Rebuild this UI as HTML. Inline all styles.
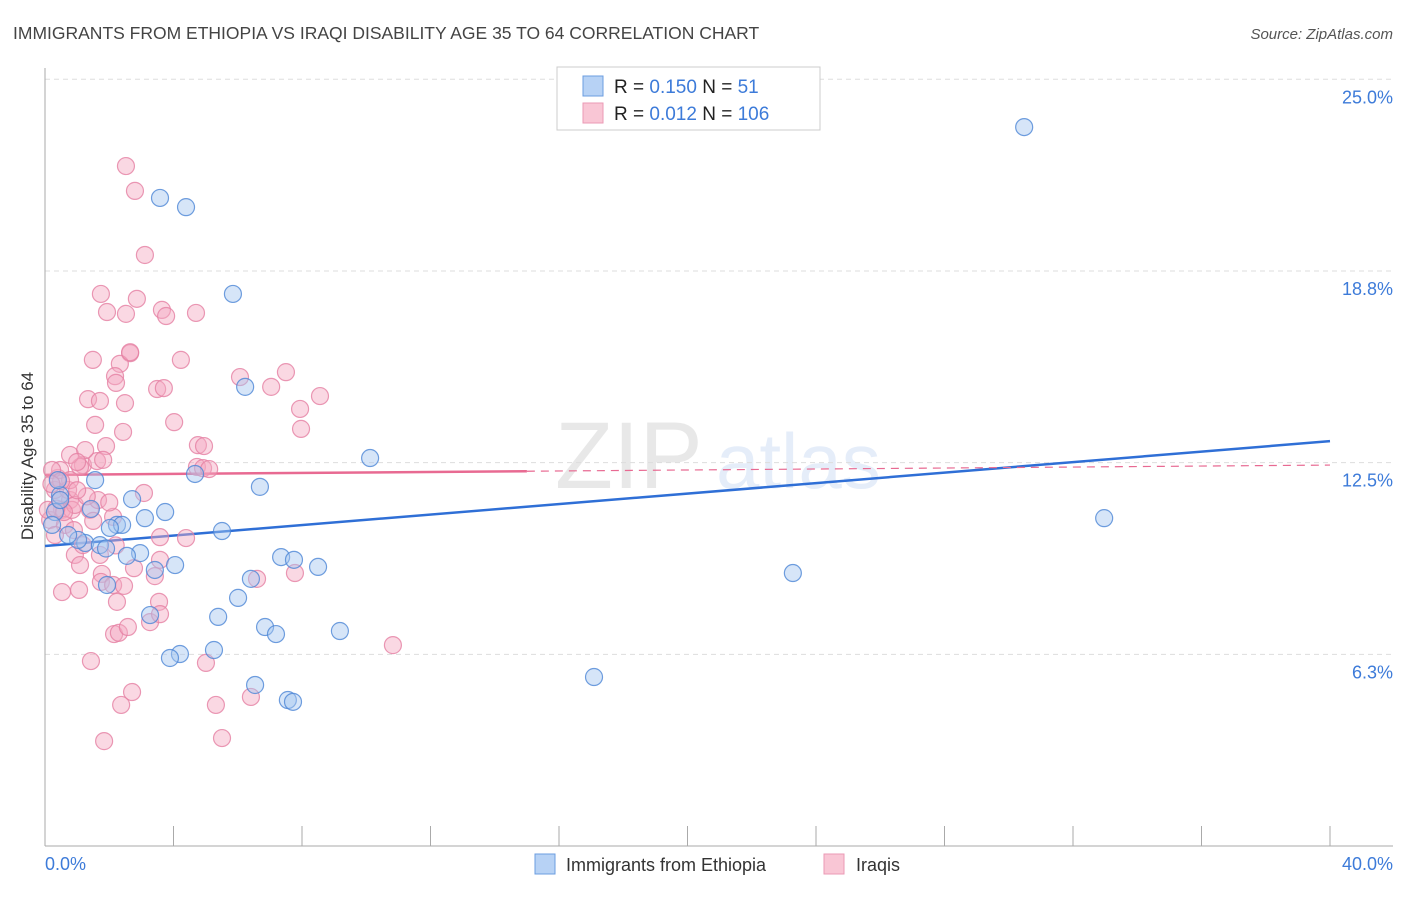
<!DOCTYPE html>
<html><head><meta charset="utf-8"><style>
body{margin:0;background:#fff;width:1406px;height:892px;overflow:hidden;font-family:"Liberation Sans",sans-serif}
svg text{font-family:"Liberation Sans",sans-serif}
</style></head><body>
<svg id="chart" width="1406" height="892" viewBox="0 0 1406 892" xmlns="http://www.w3.org/2000/svg">
<text x="13" y="39" font-size="17.5" fill="#444">IMMIGRANTS FROM ETHIOPIA VS IRAQI DISABILITY AGE 35 TO 64 CORRELATION CHART</text>
<text x="1393" y="39" font-size="15" fill="#555" text-anchor="end" font-style="italic">Source: ZipAtlas.com</text>
<g opacity="0.13">
<text x="555" y="488" font-size="95" fill="#555" font-family="Liberation Serif,serif">ZIP</text>
<text x="716" y="488" font-size="78" fill="#3d7bd9">atlas</text>
</g>
<g id="grid"></g>
<g id="axes"></g>
<g id="lines"></g>
<g id="pts"></g>
<text transform="translate(33,456) rotate(-90)" font-size="17" fill="#333" text-anchor="middle">Disability Age 35 to 64</text>
<g>
<rect x="557" y="67" width="263" height="63" fill="#fff" stroke="#ccc"/>
<rect x="583" y="76" width="20" height="20" fill="#b7d2f5" stroke="#6b9de0"/>
<rect x="583" y="103" width="20" height="20" fill="#f9c6d5" stroke="#eb9ab5"/>
<text x="614" y="93" font-size="19" fill="#222">R = <tspan fill="#3d7bd9">0.150</tspan>   N = <tspan fill="#3d7bd9">   51</tspan></text>
<text x="614" y="120" font-size="19" fill="#222">R = <tspan fill="#3d7bd9">0.012</tspan>   N = <tspan fill="#3d7bd9">106</tspan></text>
</g>
<g>
<rect x="535" y="854" width="20" height="20" fill="#b7d2f5" stroke="#6b9de0"/>
<text x="566" y="871" font-size="18" fill="#333">Immigrants from Ethiopia</text>
<rect x="824" y="854" width="20" height="20" fill="#f9c6d5" stroke="#eb9ab5"/>
<text x="856" y="871" font-size="18" fill="#333">Iraqis</text>
</g>
</svg>
<script>
const blueX=[3.58,4.39,5.85,30.48,6.23,10.12,4.67,6.69,2.71,1.56,1.43,3.74,3.11,2.24,2.40,2.02,5.51,0.47,0.31,1.25,1.71,1.03,2.96,2.55,7.35,7.75,8.50,3.42,4.05,6.41,1.93,6.01,3.27,5.39,6.85,7.19,9.18,4.20,3.89,5.26,6.54,7.56,7.72,17.09,23.28,32.97,0.40,0.47,0.22,0.72,1.9];
const blueY=[21.13,20.83,18.0,23.44,14.97,12.65,12.13,11.71,11.31,11.93,10.99,10.89,10.69,10.47,10.47,10.37,10.27,11.44,10.89,9.88,9.81,9.98,9.55,9.46,9.42,9.33,9.10,9.00,9.16,8.71,8.51,8.09,7.53,7.47,7.14,6.91,7.01,6.26,6.13,6.39,5.25,4.76,4.70,5.51,8.90,10.69,11.93,11.28,10.47,10.14,9.7];
const pinkX=[2.52,2.80,3.11,1.74,2.86,1.93,2.52,3.64,3.77,4.70,1.49,2.65,4.23,2.33,2.18,2.21,3.49,3.70,1.34,1.71,2.49,6.07,7.50,7.04,8.56,7.94,7.97,4.02,2.43,1.56,1.90,4.76,1.18,1.62,4.73,4.92,0.40,1.09,0.78,1.25,1.00,1.81,4.95,5.11,3.08,2.12,3.58,4.39,3.58,0.93,1.18,1.09,1.71,1.77,0.53,1.06,1.74,2.12,2.77,3.42,2.46,2.24,3.55,3.27,2.15,2.30,2.58,3.58,7.78,6.60,10.83,1.43,5.01,2.71,2.37,5.32,6.41,1.84,5.51,0.47,0.31,0.53,0.16,0.09,0.78,0.84,0.47,0.22,0.62,0.93,0.31,0.72,1.40,1.65,0.59,0.78,2.65,1.3,0.5,1.0,2.0,0.2,1.5,2.2,0.9,0.35];
const pinkY=[22.17,21.36,19.27,18.0,17.84,17.41,17.35,17.48,17.28,17.38,15.85,16.07,15.85,15.72,15.32,15.10,14.90,14.93,14.57,14.51,14.44,15.29,15.45,14.97,14.67,14.25,13.60,13.82,13.50,13.73,13.04,13.07,12.42,12.55,12.36,12.32,12.0,12.36,12.75,12.91,12.52,12.59,13.04,12.29,11.51,10.73,10.07,10.04,9.33,9.49,9.81,9.16,9.49,8.87,8.28,8.35,8.61,8.51,9.06,8.80,8.48,7.96,7.96,7.30,6.91,6.95,7.14,7.56,8.90,8.71,6.55,6.03,5.97,5.02,4.60,4.60,4.86,3.42,3.52,11.28,11.61,10.96,10.63,10.96,11.28,10.96,12.26,12.26,10.47,11.12,10.14,11.61,10.96,11.28,10.89,11.93,16.1,11.4,11.9,11.6,11.2,11.8,10.6,9.8,10.3,11.0];
const blueTrend=[9.78,13.2];
const pinkTrend=[12.1,12.42];
const pinkSolidEnd=15;
const yTicks=[6.25,12.5,18.75,25];
const yTickLabels=["6.3%","12.5%","18.8%","25.0%"];
const xTicks=[0,4,8,12,16,20,24,28,32,36,40];
const xEndLabels=["0.0%","40.0%"];
const NS="http://www.w3.org/2000/svg";
const X=v=>45+v*32.125, Y=v=>846-v*30.67;
function mk(t,a,p){const e=document.createElementNS(NS,t);for(const k in a)e.setAttribute(k,a[k]);p.appendChild(e);return e;}
const grid=document.getElementById('grid'),axes=document.getElementById('axes'),lines=document.getElementById('lines'),pts=document.getElementById('pts');
yTicks.forEach((v,i)=>{
 const l=mk('line',{x1:45,x2:1393,y1:Y(v),y2:Y(v),stroke:'#ddd','stroke-dasharray':'5,4'},grid);
 
 
 const t=mk('text',{x:1393,y:Y(v)+24,'font-size':18,fill:'#3d7bd9','text-anchor':'end'},axes);
 t.textContent=yTickLabels[i];
 
 
});
const ya=mk('line',{x1:45,x2:45,y1:68,y2:846,stroke:'#aaa'},axes);


const xa=mk('line',{x1:45,x2:1393,y1:846,y2:846,stroke:'#aaa'},axes);


xTicks.forEach(v=>{
 const t=mk('line',{x1:X(v),x2:X(v),y1:826,y2:846,stroke:'#aaa'},axes);
 
 
});
const xl0=mk('text',{x:45,y:870,'font-size':18,fill:'#3d7bd9'},axes);xl0.textContent=xEndLabels[0];


const xl1=mk('text',{x:1393,y:870,'font-size':18,fill:'#3d7bd9','text-anchor':'end'},axes);xl1.textContent=xEndLabels[1];


function dots(xs,ys,fill,stroke,name){xs.forEach((x,i)=>{
 const c=mk('circle',{cx:X(x),cy:Y(ys[i]),r:8.5,fill:fill,'fill-opacity':0.45,stroke:stroke,'stroke-width':1.2,'stroke-opacity':0.8},pts);
 
 
});}
dots(pinkX,pinkY,'#f4a9c0','#e57fa2','point-iraqis');
dots(blueX,blueY,'#a5c5f0','#4c86d6','point-ethiopia');
const pAt=v=>pinkTrend[0]+(pinkTrend[1]-pinkTrend[0])*v/40;
const b=mk('line',{x1:X(0),y1:Y(blueTrend[0]),x2:X(40),y2:Y(blueTrend[1]),stroke:'#2f6fd6','stroke-width':2.5},lines);


const p1=mk('line',{x1:X(0),y1:Y(pAt(0)),x2:X(pinkSolidEnd),y2:Y(pAt(pinkSolidEnd)),stroke:'#e86a92','stroke-width':2.5},lines);


const p2=mk('line',{x1:X(pinkSolidEnd),y1:Y(pAt(pinkSolidEnd)),x2:X(40),y2:Y(pAt(40)),stroke:'#e86a92','stroke-width':1.2,'stroke-dasharray':'8,6'},lines);


</script>
</body></html>
